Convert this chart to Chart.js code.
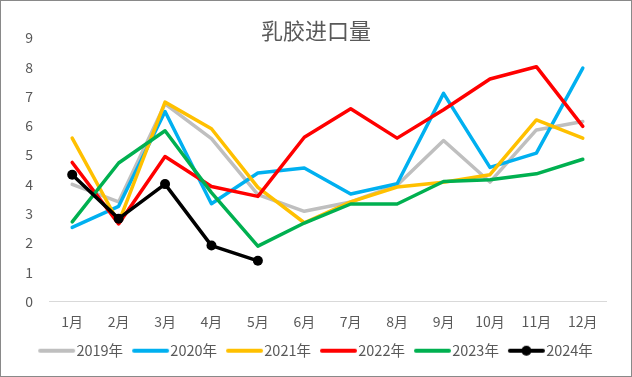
<!DOCTYPE html>
<html>
<head>
<meta charset="utf-8">
<script src="https://cdn.jsdelivr.net/npm/chart.js@4/dist/chart.umd.min.js"></script>
<style>
html,body{margin:0;padding:0;background:#fff;}
canvas{display:block;}
</style>
</head>
<body>
<canvas id="c" width="632" height="377"></canvas>
<script>
const categories = ['1月','2月','3月','4月','5月','6月','7月','8月','9月','10月','11月','12月'];
const seriesNames = ['2019年','2020年','2021年','2022年','2023年','2024年'];
const s2019 = [4.0, 3.4, 6.75, 5.56, 3.65, 3.08, 3.4, 3.97, 5.5, 4.08, 5.86, 6.15];
const s2020 = [2.53, 3.25, 6.49, 3.34, 4.39, 4.56, 3.67, 4.02, 7.11, 4.58, 5.07, 7.97];
const s2021 = [5.58, 2.69, 6.81, 5.9, 3.9, 2.69, 3.4, 3.91, 4.07, 4.33, 6.2, 5.58];
const s2022 = [4.75, 2.65, 4.95, 3.93, 3.59, 5.61, 6.58, 5.58, 6.55, 7.6, 8.02, 5.98];
const s2023 = [2.72, 4.73, 5.83, 3.72, 1.89, 2.68, 3.33, 3.33, 4.1, 4.16, 4.36, 4.86];
const s2024 = [4.33, 2.83, 4.01, 1.91, 1.39];
const yTicks = [0,1,2,3,4,5,6,7,8,9];

const colors = ['#BFBFBF','#00B0F0','#FFC000','#FF0000','#00B050','#000000'];
const allSeries = [s2019, s2020, s2021, s2022, s2023, s2024];

function swatch(color, dot){
  const cv = document.createElement('canvas');
  cv.width = 44; cv.height = 12;
  const g = cv.getContext('2d');
  g.strokeStyle = color; g.lineWidth = 4; g.lineCap = 'round';
  g.beginPath(); g.moveTo(8,6); g.lineTo(41,6); g.stroke();
  if (dot){ g.fillStyle = color; g.beginPath(); g.arc(24.5,6,5,0,Math.PI*2); g.fill(); }
  return cv;
}
const swatches = colors.map((c,i)=>swatch(c, i===5));

const FONT = '"Noto Sans CJK SC", "Noto Sans", sans-serif';
const TXT = '#595959';

const frame = {
  id:'frame',
  beforeDraw(chart){
    const ctx = chart.ctx;
    ctx.save();
    ctx.fillStyle = '#fff';
    ctx.fillRect(0,0,chart.width,chart.height);
    ctx.restore();
  },
  afterDraw(chart){
    const ctx = chart.ctx;
    ctx.save();
    ctx.strokeStyle = '#898989';
    ctx.lineWidth = 1;
    ctx.strokeRect(0.5,0.5,chart.width-1,chart.height-1);
    ctx.restore();
  }
};

new Chart(document.getElementById('c'), {
  type:'line',
  data:{
    labels: categories,
    datasets: allSeries.map((d,i)=>({
      label: seriesNames[i],
      data: d,
      borderColor: colors[i],
      backgroundColor: colors[i],
      borderWidth: 3.5,
      borderJoinStyle: 'round',
      borderCapStyle: 'round',
      tension: 0,
      pointRadius: i===5 ? 5 : 0,
      pointHoverRadius: i===5 ? 5 : 0,
      pointBackgroundColor: colors[i],
      pointBorderWidth: 0,
      pointStyle: 'circle',
      order: 5 - i,
      fill: false
    }))
  },
  options:{
    responsive:false,
    animation:false,
    devicePixelRatio:1,
    layout:{padding:{left:0,right:0,top:0,bottom:9}},
    plugins:{
      title:{
        display:true,
        text:'乳胶进口量',
        color:TXT,
        font:{family:FONT,size:22,weight:'normal',lineHeight:1},
        padding:{top:20,bottom:-4}
      },
      legend:{
        position:'bottom',
        labels:{
          usePointStyle:true,
          pointStyleWidth:30,
          color:TXT,
          font:{family:FONT,size:14.5},
          padding:10,
          generateLabels(chart){
            return chart.data.datasets.map((ds,i)=>({
              text: ds.label,
              datasetIndex: i,
              fontColor: TXT,
              fillStyle: colors[i],
              strokeStyle: colors[i],
              lineWidth: 0,
              hidden: false,
              pointStyle: swatches[i]
            }));
          }
        }
      },
      tooltip:{enabled:false}
    },
    scales:{
      x:{
        offset:true,
        grid:{display:false,drawTicks:false},
        border:{display:true,color:'#D9D9D9',width:1},
        ticks:{color:TXT,font:{family:FONT,size:14},padding:12,maxRotation:0,autoSkip:false},
        afterFit(s){ s.height = 32; }
      },
      y:{
        min:0,max:9,
        grid:{display:false,drawTicks:false},
        border:{display:false},
        afterBuildTicks(s){ s.ticks = yTicks.map(v=>({value:v})); },
        ticks:{color:TXT,font:{family:FONT,size:14},padding:16},
        afterFit(s){ s.width = 49; }
      },
      yRight:{
        position:'right',
        min:0,max:9,
        grid:{display:false,drawTicks:false},
        border:{display:false},
        ticks:{display:false},
        afterFit(s){ s.width = 26; }
      }
    }
  },
  plugins:[frame]
});
</script>
</body>
</html>
